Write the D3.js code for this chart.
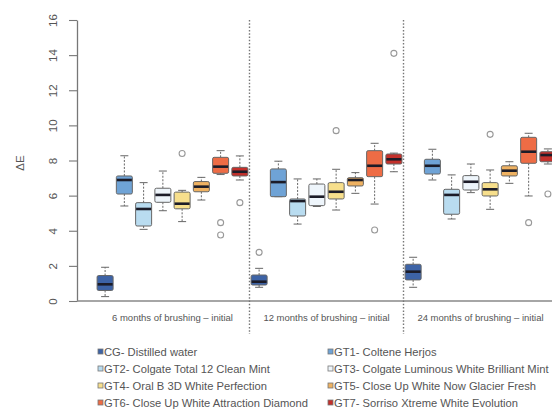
<!DOCTYPE html>
<html><head><meta charset="utf-8">
<script src="https://cdn.jsdelivr.net/npm/d3@7"></script>
<style>body{margin:0;background:#fff}svg{display:block}text{font-family:"Liberation Sans",Arial,sans-serif}</style>
</head><body>
<svg id="c" width="552" height="412"></svg>
<script>
// ---- data ----
const periods = ["6 months of brushing \u2013 initial", "12 months of brushing \u2013 initial", "24 months of brushing \u2013 initial"];
const groups = ["CG- Distilled water", "GT1- Coltene Herjos", "GT2- Colgate Total 12 Clean Mint",
  "GT3- Colgate Luminous White Brilliant Mint", "GT4- Oral B 3D White Perfection",
  "GT5- Close Up White Now Glacier Fresh", "GT6- Close Up White Attraction Diamond",
  "GT7- Sorriso Xtreme White Evolution"];
const colors = ["#3d63a6", "#6fa3d6", "#b9dcf0", "#eef5fb", "#f7df8c", "#efb262", "#ee6c45", "#c4302b"];
const yTicks = [0, 2, 4, 6, 8, 10, 12, 14, 16];
// per period (rows) and per group (columns)
const whiskerLow = [
  [0.25, 5.41, 4.08, 5.14, 4.52, 5.75, 7.20, 6.89],
  [0.78, 5.94, 4.38, 5.38, 5.18, 6.13, 5.52, 7.36],
  [0.78, 6.89, 4.67, 6.17, 5.22, 6.70, 5.98, 7.80]];
const q1 = [
  [0.60, 6.09, 4.27, 5.62, 5.25, 6.22, 7.27, 7.12],
  [0.91, 5.94, 4.84, 5.43, 5.81, 6.55, 7.08, 7.80],
  [1.20, 7.23, 4.94, 6.32, 5.98, 7.12, 7.84, 7.93]];
const median = [
  [0.95, 6.89, 5.24, 6.04, 5.54, 6.51, 7.65, 7.36],
  [1.10, 6.77, 5.69, 5.94, 6.22, 6.89, 7.70, 8.07],
  [1.67, 7.70, 6.04, 6.79, 6.36, 7.42, 8.50, 8.31]];
const q3 = [
  [1.45, 7.12, 5.60, 6.42, 6.20, 6.80, 8.18, 7.61],
  [1.48, 7.52, 5.81, 6.66, 6.74, 7.02, 8.56, 8.37],
  [2.09, 8.07, 6.36, 7.14, 6.74, 7.70, 9.32, 8.50]];
const whiskerHigh = [
  [1.92, 8.27, 6.74, 7.40, 6.30, 7.04, 8.56, 8.26],
  [1.86, 7.96, 6.95, 6.95, 7.50, 7.31, 8.98, 8.42],
  [2.49, 8.64, 7.18, 7.80, 7.46, 7.93, 9.55, 8.66]];
const outliers = [
  [[], [], [], [], [8.40], [], [4.46, 3.76], [5.60]],
  [[2.77], [], [], [], [9.70], [], [4.04], [14.10]],
  [[], [], [], [], [9.49], [], [4.46], [6.09]]];

// ---- layout ----
const svg = d3.select("#c");
const nG = groups.length;
const x = d3.scaleLinear().domain([-0.46, 25.46]).range([77, 576]);
const y = d3.scaleLinear().domain([0, 16]).range([301, 20]);
const boxW = 16, capW = 8;
const txt = "#555";

// y axis
const ya = svg.append("g").attr("transform", "translate(77,0)")
  .call(d3.axisLeft(y).tickValues(yTicks).tickSize(8).tickSizeOuter(0).tickPadding(4));
ya.select(".domain").attr("stroke", "#777").attr("stroke-width", 1.3);
ya.selectAll(".tick line").attr("stroke", "#777").attr("stroke-width", 1.1);
ya.selectAll(".tick text").attr("fill", txt).attr("font-size", 11.5)
  .attr("transform", "rotate(-90)").attr("x", 0).attr("y", -24)
  .attr("text-anchor", "middle").attr("dy", "0.35em");
svg.append("text").attr("transform", "translate(24,163) rotate(-90)")
  .attr("text-anchor", "middle").attr("font-size", 11.5).attr("fill", txt).text("\u0394E");

// bottom line
svg.append("line").attr("x1", 77).attr("x2", 552).attr("y1", y(0)).attr("y2", y(0))
  .attr("stroke", "#888").attr("stroke-width", 1.6);

// separators
[1, 2].forEach(k => {
  const xs = x(k * nG + 0.5);
  svg.append("line").attr("x1", xs).attr("x2", xs).attr("y1", y(16)).attr("y2", 334)
    .attr("stroke", "#777").attr("stroke-width", 1.4).attr("stroke-dasharray", "1.5,1.8");
});

// period labels
periods.forEach((p, k) => {
  svg.append("text").attr("x", x(k * nG + (nG + 1) / 2)).attr("y", 321)
    .attr("text-anchor", "middle").attr("font-size", 9.5).attr("fill", txt).text(p);
});

// boxes
periods.forEach((p, k) => {
  groups.forEach((g, i) => {
    const cx = x(k * nG + i + 1);
    const G = svg.append("g");
    // whiskers
    G.append("line").attr("x1", cx).attr("x2", cx).attr("y1", y(q3[k][i])).attr("y2", y(whiskerHigh[k][i]))
      .attr("stroke", "#666").attr("stroke-dasharray", "2,1.5");
    G.append("line").attr("x1", cx).attr("x2", cx).attr("y1", y(q1[k][i])).attr("y2", y(whiskerLow[k][i]))
      .attr("stroke", "#666").attr("stroke-dasharray", "2,1.5");
    [whiskerHigh[k][i], whiskerLow[k][i]].forEach(v => {
      G.append("line").attr("x1", cx - capW / 2).attr("x2", cx + capW / 2).attr("y1", y(v)).attr("y2", y(v))
        .attr("stroke", "#666").attr("stroke-width", 1);
    });
    // box
    G.append("rect").attr("x", cx - boxW / 2).attr("width", boxW)
      .attr("y", y(q3[k][i])).attr("height", Math.max(1, y(q1[k][i]) - y(q3[k][i])))
      .attr("rx", 1.5).attr("fill", colors[i]).attr("stroke", "#666").attr("stroke-width", 1);
    // median
    G.append("line").attr("x1", cx - boxW / 2 + 0.5).attr("x2", cx + boxW / 2 - 0.5)
      .attr("y1", y(median[k][i])).attr("y2", y(median[k][i]))
      .attr("stroke", "#1c1c28").attr("stroke-width", 2.6);
    // outliers
    outliers[k][i].forEach(v => {
      G.append("circle").attr("cx", cx).attr("cy", y(v)).attr("r", 3)
        .attr("fill", "none").attr("stroke", "#999").attr("stroke-width", 1.1);
    });
  });
});

// legend
const lg = svg.append("g");
groups.forEach((g, i) => {
  const col = i % 2, row = Math.floor(i / 2);
  const lx = col === 0 ? 98 : 328, ly = 352 + row * 17;
  lg.append("rect").attr("x", lx).attr("y", ly - 3).attr("width", 5).attr("height", 5)
    .attr("fill", colors[i]).attr("stroke", "#777").attr("stroke-width", 0.8);
  lg.append("text").attr("x", lx + 6).attr("y", ly).attr("dy", "0.35em")
    .attr("font-size", 11.2).attr("fill", txt).text(g);
});
</script>
</body></html>
